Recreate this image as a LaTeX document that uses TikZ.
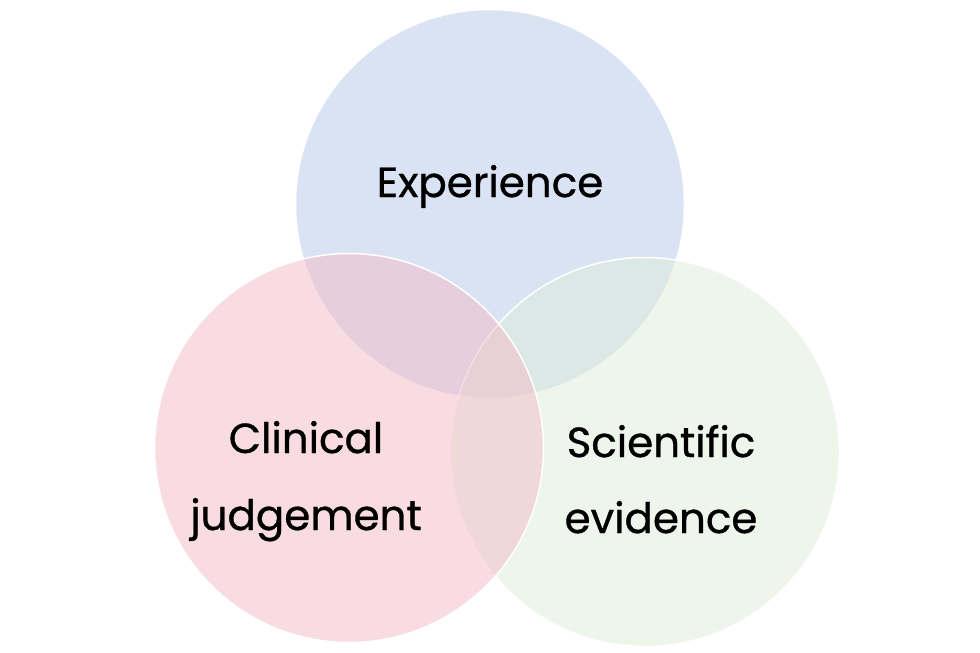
\documentclass[tikz,border=0pt]{standalone}
\usepackage{fontspec}
\setmainfont{Poppins}
\newfontfamily\lblfont{Poppins}[FakeBold=0.8]
\definecolor{cblue}{RGB}{218,227,243}
\definecolor{cpink}{RGB}{243,187,199}
\definecolor{cgreen}{RGB}{223,237,217}
\tikzset{
  venn/.style={circle, draw=white, line width=1.5pt, minimum size=389pt, inner sep=0pt},
  lbl/.style={font=\lblfont\fontsize{42}{42}\selectfont, text=black, anchor=base, inner sep=0pt}
}
\begin{document}
\begin{tikzpicture}[x=1pt,y=-1pt]
\useasboundingbox (0,0) rectangle (980,653);
\fill[white] (0,0) rectangle (980,653);
\node[venn, fill=cblue] (exp) at (490,204) {};
\node[venn, fill=cgreen, fill opacity=0.5, draw opacity=1] (sci) at (645,452) {};
\node[venn, fill=cpink, fill opacity=0.5, draw opacity=1] (cli) at (349,448) {};
\node[lbl] (t1) at (490,197) {Experience};
\node[lbl] (t2) at (306,453) {Clinical};
\node[lbl] (t3) at (306,530) {judgement};
\node[lbl] (t4) at (661,457) {Scientific};
\node[lbl] (t5) at (661,533) {evidence};
\end{tikzpicture}
\end{document}
